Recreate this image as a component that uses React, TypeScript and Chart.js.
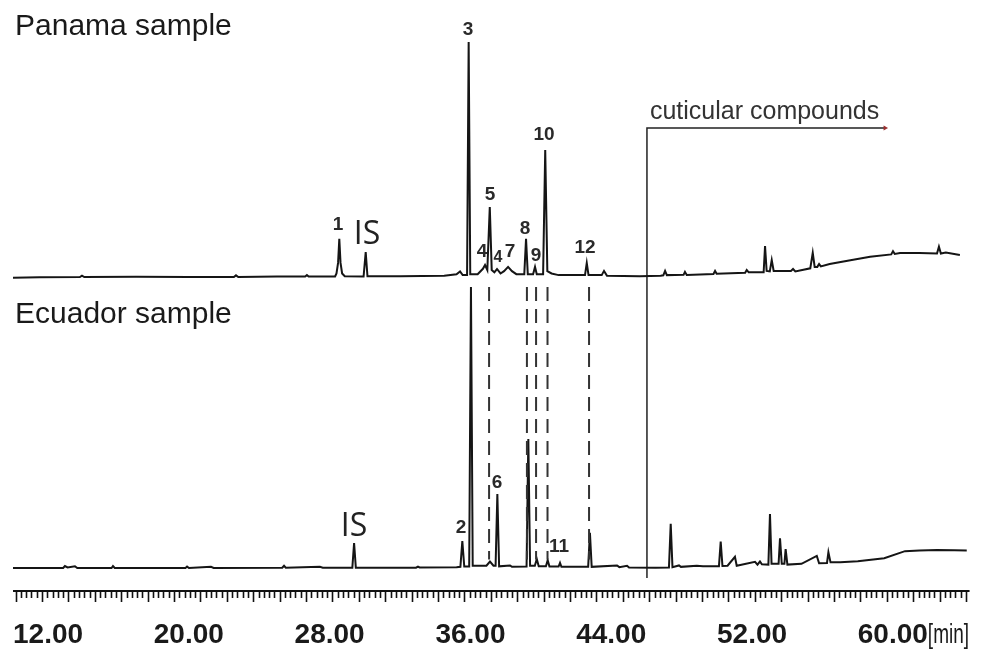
import React, { useEffect, useRef } from "react";
import { Chart, registerables } from "chart.js";
Chart.register(...registerables);

// ---- Panama sample trace (retention time [min], relative intensity) ----
const panamaTime = [
  11.95, 13.5, 15.8, 15.92, 16.05, 19.0, 22.0, 24.55, 24.67, 24.8, 27.0, 28.6, 28.7, 28.8,
  30.3, 30.38, 30.47, 30.54, 30.61, 30.7, 30.85, 31.92, 32.04, 32.14, 34.0, 36.5, 37.2, 37.4, 37.55,
  37.8, 37.89, 37.98, 38.4, 38.7, 38.82, 38.95, 39.09, 39.2, 39.35, 39.5, 39.7, 39.9,
  40.13, 40.35, 40.6, 41.05, 41.15, 41.25, 41.55, 41.66, 41.76, 42.12, 42.24, 42.36,
  42.6, 43.0, 44.5, 44.6, 44.7, 45.45, 45.58, 45.75, 47.6, 48.8, 48.95, 49.05, 49.15,
  50.1, 50.18, 50.28, 51.8, 51.89, 51.98, 53.6, 53.69, 53.8, 54.65, 54.73, 54.82, 55.0,
  55.11, 55.22, 56.2, 56.32, 56.45, 57.3, 57.44, 57.55, 57.7, 57.8, 57.9, 58.4, 59.5,
  60.7, 61.9, 62.0, 62.1, 62.4, 63.5, 64.5, 64.61, 64.72, 65.0, 65.8,
];
const panamaSignal = [
  -0.3, -0.1, 0, 0.6, 0, 0.1, 0, 0, 0.7, 0, 0.2, 0.2, 0.8, 0.2,
  0.2, 1.5, 6, 16.2, 6, 1.5, 0.3, 0.2, 10.6, 0.3, 0.3, 0.5, 1.2, 2.4, 0.8,
  0.8, 100, 1.2, 1.2, 3.5, 5.1, 3, 29.8, 3, 2, 3.4, 1.5, 2.5,
  4.3, 2.5, 1.2, 1.2, 16.2, 1.2, 1.2, 4.3, 1.2, 1.2, 54, 2.5,
  1.5, 0.8, 0.8, 6, 0.8, 0.8, 2.6, 0.5, 0.3, 0.5, 0.7, 2.6, 0.8,
  0.9, 2.2, 0.9, 1.3, 2.6, 1.4, 1.8, 3.0, 2.0, 2.0, 13.2, 2.6, 2.4,
  7.2, 2.6, 2.6, 3.4, 2.4, 3.7, 10.3, 4.3, 4.3, 5.5, 4.5, 5.5, 7.0,
  8.6, 9.6, 11.0, 9.8, 10.2, 10.2, 10.0, 12.9, 10.0, 10.4, 9.4,
];

// ---- Ecuador sample trace ----
const ecuadorTime = [
  12.0, 14.85, 14.95, 15.1, 15.52, 15.65, 17.6, 17.68, 17.78, 21.8, 21.89, 22.0, 23.25,
  23.4, 27.3, 27.4, 27.5, 29.44, 29.6, 31.28, 31.38, 31.48, 34.9, 35.01, 35.1, 37.2,
  37.42, 37.53, 37.64, 37.92, 38.02, 38.12, 38.9, 39.1, 39.3, 39.42, 39.52, 39.62, 40.24,
  40.35, 41.18, 41.28, 41.38, 41.65, 41.76, 41.87, 42.28, 42.38, 42.48, 43.0, 43.08,
  43.16, 44.68, 44.78, 44.88, 46.32, 46.45, 46.89, 47.0, 48.5, 49.27, 49.37, 49.47,
  49.84, 49.95, 50.85, 51.2, 52.11, 52.21, 52.31, 52.6, 53.02, 53.12, 54.16, 54.3,
  54.44, 54.55, 54.92, 55.01, 55.1, 55.5, 55.58, 55.68, 55.83, 55.9, 56.0, 56.8, 57.67,
  57.8, 58.25, 58.33, 58.45, 59.0, 60.0, 61.5, 62.68, 63.5, 64.5, 65.5, 66.19,
];
const ecuadorSignal = [
  0, 0, 0.7, 0.2, 0.6, 0, 0, 0.7, 0, 0, 0.5, 0, 0.4,
  0, 0.1, 0.8, 0.1, 0.4, 0.1, 0.1, 8.9, 0.1, 0.1, 0.5, 0.2, 0.3,
  0.4, 9.6, 0.5, 0.5, 100, 0.8, 0.8, 2.3, 0.8, 0.8, 26.3, 0.6, 0.9,
  0.4, 0.5, 45.9, 0.8, 0.8, 3.2, 0.6, 0.6, 2.8, 0.5, 0.5, 1.8,
  0.4, 0.4, 12.5, 0.4, 0.9, 0.3, 0.8, 0.2, 0.1, 0.2, 15.7, 0.3,
  0.9, 0.4, 0.8, 0.6, 0.6, 9.4, 0.7, 0.8, 4.0, 0.8, 2.2, 1.2,
  2.3, 1.3, 1.2, 19.2, 1.5, 1.5, 10.6, 1.5, 1.5, 6.7, 1.2, 1.5, 4.3,
  1.7, 1.8, 5.6, 2.0, 2.0, 2.4, 3.5, 6.0, 6.2, 6.4, 6.3, 6.2,
];

// ---- annotations ----
const dashedTimes = [39.05, 41.2, 41.72, 42.37, 44.73];
const dashedTop = 100; // Ecuador units
const dashedBottom = 3;
const cuticularStart = 48.02;
const cuticularEnd = 61.55;
const cuticularLevel = 63.4; // Panama units
const cuticularBottom = -128.1;

const xTickLabels = [12, 20, 28, 36, 44, 52, 60];

const panamaLabels = ["3", "1", "IS", "4", "4", "7", "5", "8", "9", "10", "12"];
const panamaLabelTime = [37.85, 30.47, 32.11, 38.65, 39.56, 40.24, 39.1, 41.09, 41.72, 42.17, 44.5];
const panamaLabelLevel = [105.1, 22.1, 17.9, 10.6, 8.1, 10.6, 34.9, 20.4, 8.9, 60.4, 12.3];

const ecuadorLabels = ["IS", "2", "6", "11"];
const ecuadorLabelTime = [31.38, 37.45, 39.5, 43.02];
const ecuadorLabelLevel = [14.6, 14.2, 30.2, 7.5];

const sampleTitles = ["Panama sample", "Ecuador sample"];

export default function App() {
  const ref = useRef<HTMLCanvasElement>(null);

  useEffect(() => {
    const canvas = ref.current;
    if (!canvas) return;

    const toPts = (ts: number[], vs: number[]) => ts.map((t, i) => ({ x: t, y: vs[i] }));

    const datasets: any[] = [];
    dashedTimes.forEach((t) => {
      datasets.push({
        data: [
          { x: t, y: dashedTop },
          { x: t, y: dashedBottom },
        ],
        yAxisID: "y2",
        showLine: true,
        borderColor: "#333",
        borderWidth: 2,
        borderDash: [14, 8],
        pointRadius: 0,
      });
    });
    datasets.push({
      data: toPts(panamaTime, panamaSignal),
      yAxisID: "y1",
      showLine: true,
      borderColor: "#151515",
      borderWidth: 2,
      pointRadius: 0,
    });
    datasets.push({
      data: toPts(ecuadorTime, ecuadorSignal),
      yAxisID: "y2",
      showLine: true,
      borderColor: "#151515",
      borderWidth: 2,
      pointRadius: 0,
    });
    datasets.push({
      data: [
        { x: cuticularStart, y: cuticularBottom },
        { x: cuticularStart, y: cuticularLevel },
        { x: cuticularEnd, y: cuticularLevel },
      ],
      yAxisID: "y1",
      showLine: true,
      borderColor: "#222",
      borderWidth: 1.5,
      pointRadius: [0, 0, 3],
      pointStyle: "triangle",
      rotation: 90,
      pointBackgroundColor: "#9b3030",
      pointBorderColor: "#9b3030",
      pointBorderWidth: 0,
    });

    const overlay = {
      id: "overlay",
      afterDraw(chart: any) {
        const ctx = chart.ctx;
        const xs = chart.scales.x;
        const y1 = chart.scales.y1;
        const y2 = chart.scales.y2;
        ctx.save();
        // titles
        ctx.fillStyle = "#1a1a1a";
        ctx.font = '30px "Liberation Sans", Arial, sans-serif';
        ctx.textAlign = "left";
        ctx.textBaseline = "alphabetic";
        ctx.fillText(sampleTitles[0], 15, 35);
        ctx.fillText(sampleTitles[1], 15, 323);

        // peak labels
        const drawLabel = (txt: string, t: number, v: number, sc: any, small: boolean) => {
          if (txt === "IS") {
            ctx.font = '32px "Open Sans", sans-serif';
            ctx.fillStyle = "#222";
          } else {
            ctx.font = (small ? "bold 16px" : "bold 19px") + ' "Liberation Sans", Arial, sans-serif';
            ctx.fillStyle = "#2a2a2a";
          }
          ctx.textAlign = "center";
          ctx.textBaseline = "middle";
          ctx.fillText(txt, xs.getPixelForValue(t), sc.getPixelForValue(v));
        };
        panamaLabels.forEach((l, i) =>
          drawLabel(l, panamaLabelTime[i], panamaLabelLevel[i], y1, i === 4)
        );
        ecuadorLabels.forEach((l, i) =>
          drawLabel(l, ecuadorLabelTime[i], ecuadorLabelLevel[i], y2, false)
        );

        // cuticular compounds
        ctx.font = '25px "Liberation Sans", Arial, sans-serif';
        ctx.fillStyle = "#333";
        ctx.textAlign = "left";
        ctx.textBaseline = "alphabetic";
        ctx.fillText(
          "cuticular compounds",
          xs.getPixelForValue(cuticularStart) + 3,
          y1.getPixelForValue(cuticularLevel) - 9
        );

        // ruler x-axis
        const axisY = chart.chartArea.bottom;
        const x0 = xs.getPixelForValue(12);
        const xEnd = xs.getPixelForValue(66.35);
        ctx.strokeStyle = "#111";
        ctx.lineWidth = 1.8;
        ctx.beginPath();
        ctx.moveTo(x0, axisY);
        ctx.lineTo(xEnd, axisY);
        ctx.stroke();
        ctx.lineWidth = 1.6;
        for (let i = 0; ; i++) {
          const t = 12.15 + i * 0.3;
          if (t > 66.25) break;
          const px = Math.round(xs.getPixelForValue(t)) + 0.5;
          const len = i % 5 === 0 ? 11 : 7;
          ctx.beginPath();
          ctx.moveTo(px, axisY);
          ctx.lineTo(px, axisY + len);
          ctx.stroke();
        }
        ctx.font = 'bold 28px "Liberation Sans", Arial, sans-serif';
        ctx.fillStyle = "#1a1a1a";
        ctx.textAlign = "left";
        ctx.textBaseline = "alphabetic";
        xTickLabels.forEach((v) => {
          ctx.fillText(v.toFixed(2), xs.getPixelForValue(v), 643);
        });
        // unit suffix after the last label, condensed
        const last = xTickLabels[xTickLabels.length - 1];
        const lastX = xs.getPixelForValue(last) + ctx.measureText(last.toFixed(2)).width;
        ctx.save();
        ctx.translate(lastX, 643);
        ctx.scale(0.68, 1);
        ctx.font = '28px "Liberation Sans", Arial, sans-serif';
        ctx.fillText("[min]", 0, 0);
        ctx.restore();
        ctx.restore();
      },
    };

    const chart = new Chart(canvas, {
      type: "scatter",
      data: { datasets },
      options: {
        animation: false,
        responsive: true,
        maintainAspectRatio: false,
        layout: { padding: { left: 13, right: 31, top: 10, bottom: 61 } },
        plugins: { legend: { display: false }, tooltip: { enabled: false } },
        scales: {
          x: { type: "linear", min: 12, max: 66.375, display: false },
          y1: { type: "linear", min: -133.6, max: 113.6, display: false },
          y2: { type: "linear", min: -8.19, max: 198.6, display: false },
        },
      },
      plugins: [overlay],
    });
    return () => chart.destroy();
  }, []);

  return (
    <div
      style={{
        position: "absolute",
        left: 0,
        top: 0,
        width: 1001,
        height: 652,
        background: "#fff",
      }}
    >
      <canvas ref={ref} style={{ display: "block" }} />
    </div>
  );
}
